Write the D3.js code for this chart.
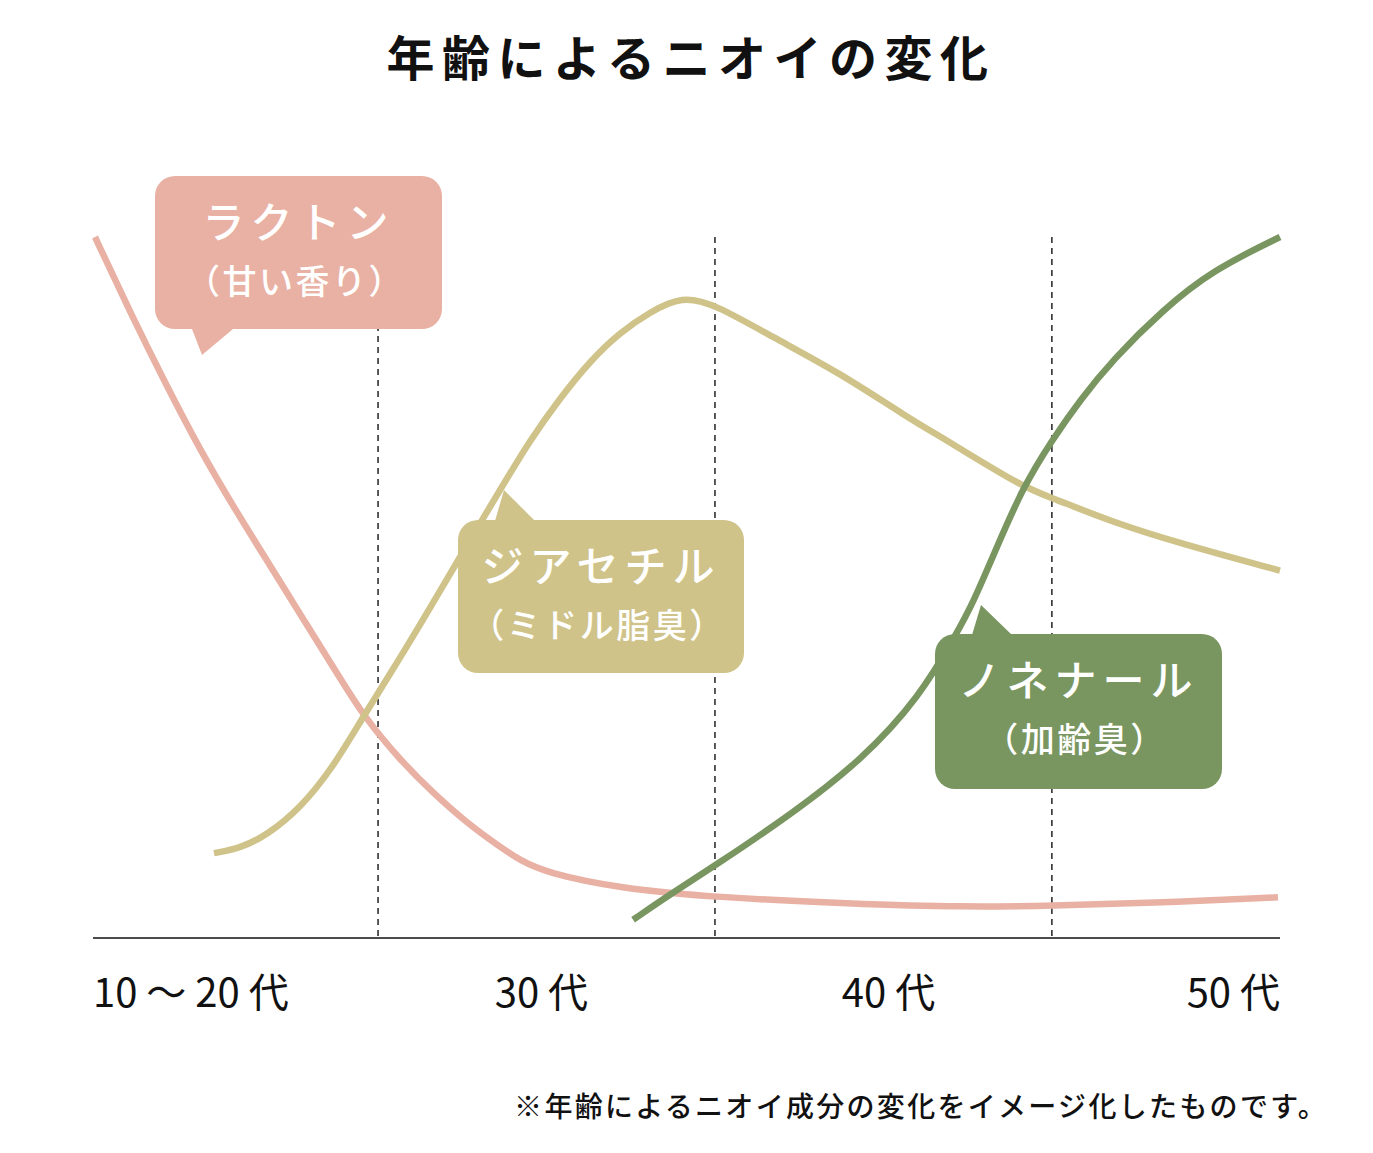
<!DOCTYPE html>
<html>
<head>
<meta charset="utf-8">
<script src="https://cdn.jsdelivr.net/npm/d3@7/dist/d3.min.js"></script>
<style>
  html, body { margin: 0; padding: 0; background: #ffffff; }
  svg { display: block; }
  text { font-family: "Noto Sans CJK JP", "Noto Sans", sans-serif; }
</style>
</head>
<body>
<svg id="chart" width="1373" height="1153"></svg>
<script>
// ---------------- DATA ----------------
const title = "年齢によるニオイの変化";
const footnote = "※年齢によるニオイ成分の変化をイメージ化したものです。";

// x: age (years), y: relative intensity (0–100)
const lactone = [
  [16.60, 100], [17.64, 89.3], [18.68, 79.2], [19.72, 69.6], [20.76, 61.1],
  [21.80, 53.1], [22.83, 45.1], [23.87, 37.1], [24.55, 31.8], [25.65, 25.4],
  [26.63, 20.7], [27.64, 16.4], [28.62, 13.0], [29.21, 11.1], [30.01, 9.3],
  [32.15, 7.1], [35.00, 5.8], [39.01, 4.9], [42.45, 4.4], [45.00, 4.6],
  [47.91, 5.0], [51.71, 5.8]
];
const diacetyl = [
  [20.13, 12.1], [20.91, 12.8], [21.71, 14.7], [22.69, 18.5], [23.66, 24.3],
  [24.55, 31.5], [25.65, 39.9], [26.63, 47.8], [27.61, 55.8], [28.62, 63.9],
  [29.51, 71.0], [30.40, 77.0], [31.29, 82.3], [32.18, 86.4], [33.07, 89.3],
  [34.02, 91.6], [35.00, 90.4], [36.72, 85.7], [38.71, 80.6], [40.70, 74.3],
  [41.88, 71.0], [44.14, 64.3], [45.00, 62.8], [46.81, 59.3], [48.80, 56.3],
  [51.77, 52.4]
];
const nonenal = [
  [32.57, 2.6], [33.72, 6.4], [35.00, 10.3], [37.31, 17.8], [39.36, 25.4],
  [41.08, 34.4], [42.18, 43.5], [42.66, 47.8], [43.37, 55.8], [44.14, 64.3],
  [45.00, 71.0], [45.83, 76.7], [46.81, 82.5], [48.29, 89.6], [49.78, 95.3],
  [51.77, 100]
];

const xExtent = [16.54, 51.77];
const dividers = [25, 35, 45];
const tickLabels = ["10 ～ 20 代", "30 代", "40 代", "50 代"];
const tickAges = [16.54, 29.85, 40.15, 51.77];
const tickAnchors = ["start", "middle", "middle", "end"];

const seriesNames = ["ラクトン", "ジアセチル", "ノネナール"];
const seriesSubs = ["（甘い香り）", "（ミドル脂臭）", "（加齢臭）"];
const seriesColors = ["#E9B1A3", "#CFC38A", "#7A9660"];

// ---------------- LAYOUT ----------------
const svg = d3.select("#chart");
const x = d3.scaleLinear().domain(xExtent).range([93, 1280]);
const y = d3.scaleLinear().domain([0, 100]).range([938, 237]);

// title
svg.append("text")
  .attr("x", 691).attr("y", 76)
  .attr("text-anchor", "middle")
  .attr("font-size", 48).attr("font-weight", 700)
  .attr("letter-spacing", 7.5)
  .attr("fill", "#111")
  .text(title);

// dashed dividers
svg.append("g").selectAll("line").data(dividers).join("line")
  .attr("x1", d => x(d)).attr("x2", d => x(d))
  .attr("y1", y(100)).attr("y2", y(0))
  .attr("stroke", "#000").attr("stroke-width", 1.3)
  .attr("stroke-dasharray", "6,5");

// baseline axis
svg.append("line")
  .attr("x1", x(xExtent[0])).attr("x2", x(xExtent[1]))
  .attr("y1", y(0)).attr("y2", y(0))
  .attr("stroke", "#111").attr("stroke-width", 1.5);

// tick labels
svg.append("g").selectAll("text").data(tickLabels).join("text")
  .attr("x", (d, i) => x(tickAges[i]))
  .attr("y", 1007)
  .attr("text-anchor", (d, i) => tickAnchors[i])
  .attr("font-size", 40)
  .attr("fill", "#111")
  .text(d => d);

// curves
const line = d3.line().x(d => x(d[0])).y(d => y(d[1])).curve(d3.curveBasis);
[lactone, diacetyl, nonenal].forEach((s, i) => {
  svg.append("path")
    .attr("d", line(s))
    .attr("fill", "none")
    .attr("stroke", seriesColors[i])
    .attr("stroke-width", 6.5)
    .attr("stroke-linecap", "butt");
});

// callout boxes (pixel layout)
const boxes = [
  { x: 155, y: 176, w: 287, h: 153, tail: [[192, 329], [202, 355], [233, 329]] },
  { x: 458, y: 520, w: 286, h: 153, tail: [[495, 521], [504, 490], [535, 521]] },
  { x: 935, y: 634, w: 287, h: 155, tail: [[972, 635], [981, 605], [1012, 635]] }
];
boxes.forEach((b, i) => {
  const g = svg.append("g");
  g.append("rect")
    .attr("x", b.x).attr("y", b.y).attr("width", b.w).attr("height", b.h)
    .attr("rx", 20).attr("ry", 20)
    .attr("fill", seriesColors[i]);
  g.append("path")
    .attr("d", d3.line()(b.tail) + "Z")
    .attr("fill", seriesColors[i]);
  g.append("text")
    .attr("x", b.x + b.w / 2).attr("y", b.y + 62)
    .attr("text-anchor", "middle")
    .attr("font-size", 42).attr("font-weight", 500)
    .attr("letter-spacing", 6)
    .attr("fill", "#fff")
    .text(seriesNames[i]);
  g.append("text")
    .attr("x", b.x + b.w / 2 - 3).attr("y", b.y + 118)
    .attr("text-anchor", "middle")
    .attr("font-size", 34).attr("font-weight", 500)
    .attr("letter-spacing", 2.5)
    .attr("fill", "#fff")
    .text(seriesSubs[i]);
});

// footnote
svg.append("text")
  .attr("x", 1328).attr("y", 1117)
  .attr("text-anchor", "end")
  .attr("font-size", 28).attr("font-weight", 500)
  .attr("letter-spacing", 2.3)
  .attr("fill", "#111")
  .text(footnote);
</script>
</body>
</html>
